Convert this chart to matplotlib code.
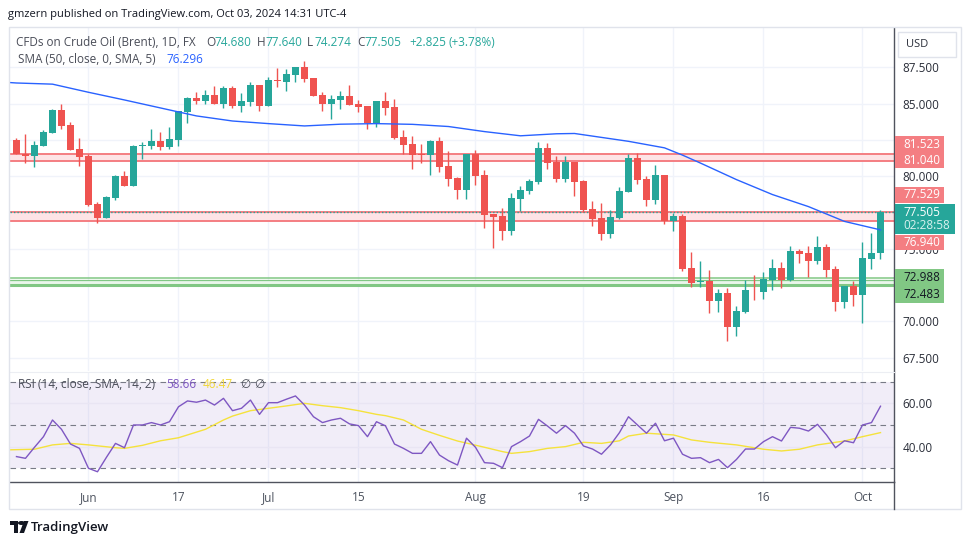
import numpy as np
import pandas as pd
import matplotlib
matplotlib.use("Agg")
import matplotlib.pyplot as plt
from matplotlib.patches import Rectangle, Circle, Polygon
from matplotlib.lines import Line2D

plt.rcParams['font.family'] = ['Open Sans', 'DejaVu Sans']

W, H = 970, 545

# daily bars, Brent CFD (weekdays incl. US holidays)
dates = pd.bdate_range("2024-05-22", "2024-10-03")

opens = [82.47, 81.51, 81.40, 82.08, 82.98, 84.54, 83.50, 81.85, 81.37, 78.06,
         77.12, 78.50, 79.99, 79.32, 82.06, 82.06, 82.40, 81.99, 82.47, 84.42,
         85.37, 85.18, 85.60, 84.98, 86.06, 84.82, 85.10, 86.26, 84.82, 86.62,
         86.47, 87.00, 87.49, 86.73, 85.58, 84.98, 85.23, 85.51, 84.96, 84.82,
         83.65, 85.16, 84.75, 82.68, 82.20, 81.50, 81.46, 82.40, 80.68, 79.86,
         79.03, 81.50, 80.06, 77.37, 77.24, 76.22, 78.41, 78.96, 79.58, 81.92,
         80.96, 79.79, 80.96, 79.65, 77.72, 77.10, 76.02, 77.10, 78.89, 81.23,
         79.79, 78.34, 80.06, 76.89, 77.24, 73.65, 72.70, 72.76, 71.40, 71.93,
         69.61, 70.62, 72.16, 72.00, 72.83, 73.65, 72.83, 74.82, 74.69, 74.13,
         75.10, 73.58, 71.31, 72.41, 71.79, 74.27, 74.680]
highs = [82.60, 82.90, 82.41, 83.16, 84.60, 84.96, 83.70, 82.60, 81.50, 78.22,
         78.60, 80.06, 80.34, 82.13, 82.33, 83.28, 83.03, 83.37, 84.50, 85.44,
         85.78, 85.92, 86.20, 86.20, 86.20, 85.76, 86.47, 86.26, 86.80, 87.42,
         87.35, 87.50, 87.92, 86.75, 85.78, 85.58, 85.85, 86.26, 85.23, 84.82,
         85.16, 85.78, 85.30, 83.16, 82.75, 82.20, 82.47, 82.68, 81.72, 79.92,
         81.55, 81.78, 80.40, 77.37, 77.79, 78.82, 79.30, 79.79, 82.34, 82.27,
         81.37, 81.37, 80.96, 79.72, 78.27, 78.13, 77.65, 79.24, 81.50, 81.58,
         79.99, 80.75, 80.06, 77.49, 77.42, 74.76, 74.13, 73.51, 72.20, 72.27,
         71.03, 72.83, 73.17, 73.37, 74.27, 74.07, 75.17, 74.96, 75.17, 75.86,
         75.31, 73.79, 72.45, 72.76, 75.44, 76.06, 77.640]
lows = [81.50, 80.90, 80.63, 82.05, 82.95, 83.23, 81.80, 80.68, 77.95, 76.77,
        77.10, 78.34, 79.30, 79.30, 81.18, 81.90, 81.83, 81.90, 82.10, 83.67,
        84.96, 84.96, 84.97, 84.70, 84.70, 84.42, 84.82, 84.49, 84.80, 86.15,
        85.87, 86.49, 86.50, 85.50, 84.49, 83.94, 84.63, 84.90, 84.42, 83.25,
        83.39, 84.20, 82.54, 81.56, 80.50, 80.91, 80.11, 80.29, 79.32, 78.41,
        78.41, 79.39, 76.43, 75.05, 75.60, 75.95, 77.58, 78.75, 79.44, 80.48,
        79.58, 79.58, 78.61, 77.51, 76.55, 75.60, 75.74, 77.03, 78.89, 79.44,
        77.93, 78.06, 76.68, 76.20, 73.45, 72.36, 72.36, 70.57, 70.64, 68.64,
        68.99, 70.60, 71.45, 71.52, 72.14, 72.27, 72.80, 74.00, 73.03, 73.93,
        73.03, 70.69, 70.90, 71.03, 69.86, 73.58, 74.274]
closes = [81.51, 81.40, 82.13, 83.03, 84.54, 83.46, 81.81, 81.30, 78.00, 77.12,
          78.55, 80.00, 79.32, 82.06, 82.08, 82.40, 81.99, 82.54, 84.47, 85.37,
          85.18, 85.60, 84.98, 86.06, 84.84, 85.16, 86.26, 84.82, 86.61, 86.58,
          87.02, 87.49, 86.68, 85.53, 84.98, 85.30, 85.51, 84.91, 84.77, 83.65,
          85.16, 84.70, 82.63, 82.15, 81.46, 81.45, 82.40, 80.63, 79.80, 79.03,
          81.50, 80.01, 77.33, 77.17, 76.22, 78.48, 79.03, 79.65, 81.92, 80.91,
          79.79, 80.96, 79.58, 77.65, 77.03, 76.02, 77.17, 78.96, 81.23, 79.72,
          78.34, 80.06, 76.89, 77.24, 73.58, 72.64, 72.76, 71.40, 71.95, 69.61,
          70.69, 72.14, 72.12, 72.90, 73.65, 72.83, 74.82, 74.62, 74.13, 75.10,
          73.51, 71.31, 72.41, 71.79, 74.34, 74.69, 77.505]

# SMA(50) at a few bars
sma_bar = [-1, 0, 4, 8, 12, 16, 20, 24, 28, 32, 36, 40, 44, 48, 52, 56, 60, 62,
           64, 68, 72, 74, 76, 80, 84, 88, 92, 96]
sma_val = [86.46, 86.42, 86.34, 85.78, 85.25, 84.70, 84.15, 83.80, 83.62, 83.46,
           83.58, 83.62, 83.57, 83.42, 83.07, 82.78, 82.92, 82.94, 82.76, 82.40,
           81.95, 81.45, 80.90, 79.76, 78.73, 77.90, 76.88, 76.296]

rsi = [35.4, 34.6, 39.7, 44.6, 52.3, 48.0, 41.2, 39.2, 30.0, 28.4,
       35.1, 41.5, 39.5, 50.0, 50.0, 51.1, 50.0, 51.5, 58.4, 61.1,
       60.5, 61.5, 59.2, 62.3, 56.6, 57.7, 61.5, 54.9, 60.3, 60.3,
       61.9, 63.4, 59.2, 53.8, 51.1, 52.3, 53.1, 50.5, 49.7, 44.6,
       51.5, 49.6, 41.2, 39.2, 36.9, 36.9, 42.3, 36.1, 33.5, 31.5,
       43.9, 39.7, 32.6, 32.3, 30.3, 40.0, 42.3, 44.9, 52.6, 49.5,
       46.2, 49.7, 46.2, 40.3, 38.9, 36.5, 40.8, 46.5, 53.8, 50.0,
       46.2, 50.8, 42.7, 43.9, 36.5, 34.6, 34.9, 32.6, 34.1, 30.3,
       34.1, 38.9, 38.9, 42.3, 44.6, 42.6, 48.9, 48.5, 47.2, 50.3,
       45.4, 39.5, 42.7, 41.8, 50.0, 51.1, 58.66]

rsi_ma_bar = [-1, 2, 4, 6, 8, 11, 12, 14, 16, 18, 21, 23, 24, 26, 28, 30, 32,
              34, 36, 38, 40, 41, 43, 45, 47, 49, 52, 54, 55, 57, 59, 61, 63,
              65, 67, 68, 70, 73, 75, 77, 80, 83, 85, 87, 89, 92, 94, 96]
rsi_ma_val = [38.5, 38.8, 40.8, 41.5, 40.8, 39.5, 39.2, 40.6, 42.7, 44.1, 48.0,
              52.3, 54.1, 56.6, 57.7, 58.8, 60.0, 58.9, 58.0, 56.6, 54.9, 54.3,
              52.3, 48.0, 45.2, 42.6, 39.7, 37.7, 36.9, 37.7, 39.2, 40.0, 42.0,
              41.5, 42.7, 44.9, 46.2, 45.4, 43.1, 42.0, 40.8, 38.8, 38.0, 38.8,
              40.8, 42.6, 44.6, 46.47]

tick_dates = ["2024-06-03", "2024-06-17", "2024-07-01", "2024-07-15", "2024-08-01",
              "2024-08-19", "2024-09-02", "2024-09-16", "2024-10-01"]
tick_labels = ["Jun", "17", "Jul", "15", "Aug", "19", "Sep", "16", "Oct"]

red_zones = [(81.040, 81.523), (76.940, 77.529)]
green_levels = [72.988, 72.83, 72.483]
last_price = 77.505
countdown = "02:28:58"

UP, DOWN = '#26a69a', '#ef5350'
GRID = '#f0f3fa'
AXLINE = '#50535e'
TXT = '#2a2e39'
ZONE_LINE = '#f47e82'
ZONE_FILL = '#fde4e6'
GREEN = '#81c784'


def fx(px):
    return px / W


def fy(py):
    return 1 - py / H


def box(l, t, r, b):
    return [fx(l), fy(b), fx(r) - fx(l), fy(t) - fy(b)]


fig = plt.figure(figsize=(9.7, 5.45), dpi=100)
fig.patch.set_facecolor('white')

ax = fig.add_axes(box(10, 28, 894, 371))
ax2 = fig.add_axes(box(10, 372, 894, 482), sharex=ax)

x = np.arange(len(dates))
o = np.array(opens); h = np.array(highs); l = np.array(lows); c = np.array(closes)
cols = np.where(c >= o, UP, DOWN)

# zones
for lo, hi in red_zones:
    ax.axhspan(lo, hi, color=ZONE_FILL, lw=0, zorder=1)
    ax.axhline(hi, color=ZONE_LINE, lw=1.4, zorder=2)
    ax.axhline(lo, color=ZONE_LINE, lw=1.4, zorder=2)
ax.axhspan(green_levels[2], green_levels[1], color='#eaf6eb', lw=0, zorder=1)
ax.axhline(green_levels[0], color=GREEN, lw=1.1, zorder=2)
ax.axhline(green_levels[1], color=GREEN, lw=0.9, zorder=2)
ax.axhline(green_levels[2], color=GREEN, lw=2.2, zorder=2)
ax.axhline(last_price, color=UP, lw=1, ls=(0, (1, 1.5)), zorder=2.5)

# candles
ax.vlines(x, l, h, colors=cols, lw=1, zorder=3)
body = np.maximum(np.abs(c - o), 0.06)
ax.bar(x, body, bottom=np.minimum(o, c), width=0.74, color=cols, lw=0, zorder=4)

ax.plot(sma_bar, sma_val, color='#2962ff', lw=1, zorder=5)

tick_pos = [dates.get_loc(pd.Timestamp(d)) for d in tick_dates]

ax.set_xlim(-0.72, 97.5)
ax.set_ylim(66.57, 90.21)
ax.yaxis.tick_right()
yt = np.arange(67.5, 88.0, 2.5)
# levels sitting under a price tag get no text, as on the chart
hidden = (72.5, 77.5)
ax.set_yticks(yt, ['' if v in hidden else f'{v:.3f}' for v in yt])
ax.tick_params(axis='y', length=0, pad=6.3, labelsize=8.5, labelcolor=TXT)
ax.set_xticks(tick_pos)
ax.tick_params(axis='x', length=0, labelbottom=False)
ax.grid(True, color=GRID, lw=1, zorder=0)
ax.set_axisbelow(True)
for s in ['top', 'left', 'bottom']:
    ax.spines[s].set_visible(False)
ax.spines['right'].set_color(AXLINE)
ax.spines['right'].set_linewidth(1)

# RSI pane
ax2.axhspan(30, 70, color='#7e57c2', alpha=0.1, lw=0, zorder=1)
for lvl in (70, 50, 30):
    ax2.axhline(lvl, color='#787b86', lw=0.8, ls=(0, (5, 4)), zorder=2)
for lvl in (60, 40):
    ax2.axhline(lvl, color='#e9e5f3', lw=1, zorder=1.5)
ax2.plot(x, rsi, color='#7e57c2', lw=1, zorder=4)
ax2.plot(rsi_ma_bar, rsi_ma_val, color='#f5e23c', lw=1, zorder=3)
ax2.set_ylim(23.67, 74.46)
ax2.set_yticks([40, 60], ['40.00', '60.00'])
ax2.yaxis.tick_right()
ax2.tick_params(axis='y', length=0, pad=6.3, labelsize=8.5, labelcolor=TXT)
ax2.set_xticks(tick_pos, tick_labels)
ax2.tick_params(axis='x', length=0, pad=6.5, labelsize=8.5, labelcolor='#4c525e')
ax2.grid(True, axis='x', color=GRID, lw=1, zorder=0)
ax2.set_axisbelow(True)
ax2.spines['left'].set_visible(False)
ax2.spines['top'].set_color('#eceef3')
for s in ['right', 'bottom']:
    ax2.spines[s].set_color(AXLINE)
    ax2.spines[s].set_linewidth(1)

# outer frame and axis line down to the frame
fig.add_artist(Rectangle((fx(9), fy(509)), fx(961) - fx(9), fy(27) - fy(509),
                         transform=fig.transFigure, fill=False, edgecolor='#e0e3eb', lw=1))
fig.add_artist(Line2D([fx(894), fx(894)], [fy(482), fy(509)], transform=fig.transFigure,
                      color=AXLINE, lw=1))

# USD box
fig.add_artist(Rectangle((fx(898), fy(57)), fx(956) - fx(898), fy(32) - fy(57),
                         transform=fig.transFigure, facecolor='white', edgecolor='#e0e3eb', lw=1))
fig.text(fx(906), fy(44.5), 'USD', fontsize=8, color=TXT, va='center', ha='left')


def price_py(p):
    return H - ax.transData.transform((0, p))[1]


def tag(cy, hgt, wid, lines, bg):
    fig.add_artist(Rectangle((fx(895), fy(cy + hgt / 2)), fx(895 + wid) - fx(895), hgt / H,
                             transform=fig.transFigure, facecolor=bg, lw=0, zorder=5))
    n = len(lines)
    for k, (txt, col) in enumerate(lines):
        yy = cy + (k - (n - 1) / 2) * 13.5
        fig.text(fx(903), fy(yy), txt, fontsize=8.5, color=col, va='center', ha='left', zorder=6)


# labels stacked the way the chart stacks them
tag(price_py(81.523) - 10, 16, 49, [('81.523', 'white')], ZONE_LINE)
tag(price_py(81.040) - 1, 16, 49, [('81.040', 'white')], ZONE_LINE)
tag(price_py(77.529) - 17, 16, 49, [('77.529', 'white')], ZONE_LINE)
tag(price_py(last_price) + 6.5, 30, 60, [(f'{last_price:.3f}', 'white'), (countdown, '#d9f2ef')], UP)
tag(price_py(76.940) + 22, 15, 49, [('76.940', 'white')], ZONE_LINE)
tag(price_py(72.988) - 0.5, 17, 49, [('72.988', '#131722')], GREEN)
tag(price_py(72.483) + 9.5, 17, 49, [('72.483', '#131722')], GREEN)

# legends
GRAY = '#4a4d58'
fig.text(fx(8), fy(14), 'gmzern published on TradingView.com, Oct 03, 2024 14:31 UTC-4',
         fontsize=8, color='#131722', va='center', ha='left')
fig.text(fx(16), fy(42), 'CFDs on Crude Oil (Brent), 1D, FX', fontsize=8.5, color=GRAY, va='center')
for px, txt, col in [(206, 'O', GRAY), (214, f'{opens[-1]:.3f}', UP), (257, 'H', GRAY),
                     (265, f'{highs[-1]:.3f}', UP), (307, 'L', GRAY), (314, f'{lows[-1]:.3f}', UP),
                     (357, 'C', GRAY), (364, f'{closes[-1]:.3f}', UP),
                     (409, '+2.825', UP), (449, '(+3.78%)', UP)]:
    fig.text(fx(px), fy(42), txt, fontsize=8.5, color=col, va='center')
fig.text(fx(18), fy(59), 'SMA (50, close, 0, SMA, 5)', fontsize=8.5, color=GRAY, va='center')
fig.text(fx(166), fy(59), f'{sma_val[-1]:.3f}', fontsize=8.5, color='#2962ff', va='center')
fig.text(fx(18), fy(385), 'RSI (14, close, SMA, 14, 2)', fontsize=8.5, color=GRAY, va='center')
fig.text(fx(166), fy(385), f'{rsi[-1]:.2f}', fontsize=8.5, color='#7e57c2', va='center')
fig.text(fx(203), fy(385), f'{rsi_ma_val[-1]:.2f}', fontsize=8.5, color='#f2d83a', va='center')
fig.text(fx(240), fy(385), '\u2205', fontsize=8.5, color=GRAY, va='center')
fig.text(fx(254), fy(385), '\u2205', fontsize=8.5, color=GRAY, va='center')

# TradingView logo + name
fig.add_artist(Rectangle((fx(10), fy(525)), fx(18) - fx(10), 4 / H, transform=fig.transFigure,
                         facecolor='#131722', lw=0))
fig.add_artist(Rectangle((fx(14), fy(533)), fx(18) - fx(14), 12 / H, transform=fig.transFigure,
                         facecolor='#131722', lw=0))
fig.add_artist(Circle((fx(21.5), fy(523)), 2 / H, transform=fig.transFigure, facecolor='#131722', lw=0))
fig.add_artist(Polygon([(fx(24), fy(521)), (fx(28.5), fy(521)), (fx(24), fy(533)), (fx(19.5), fy(533))],
                       closed=True, transform=fig.transFigure, facecolor='#131722', lw=0))
fig.text(fx(31), fy(527), 'TradingView', fontsize=9.5, fontweight='semibold', color='#131722', va='center')

fig.savefig('out.png', dpi=100)
